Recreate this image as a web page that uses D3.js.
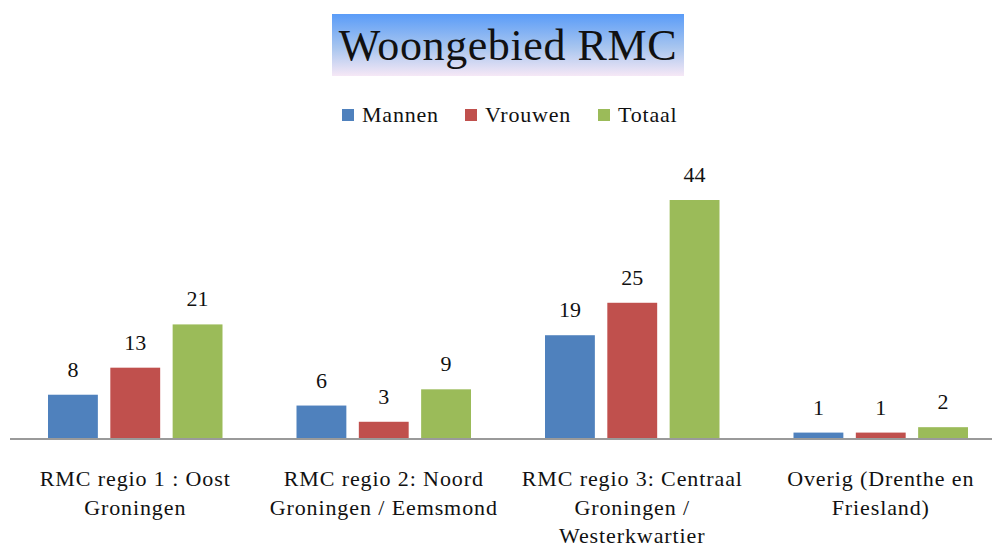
<!DOCTYPE html>
<html>
<head>
<meta charset="utf-8">
<script src="https://cdn.jsdelivr.net/npm/d3@7"></script>
<style>
  body { margin: 0; background: #fff; }
  svg { display: block; font-family: "Liberation Serif", "DejaVu Serif", serif; }
</style>
</head>
<body>
<div id="chart"></div>
<script>
const categories = [
  ["RMC regio 1 : Oost", "Groningen"],
  ["RMC regio 2: Noord", "Groningen / Eemsmond"],
  ["RMC regio 3: Centraal", "Groningen /", "Westerkwartier"],
  ["Overig (Drenthe en", "Friesland)"]
]
const series = ["Mannen", "Vrouwen", "Totaal"]
const mannen = [8, 6, 19, 1]
const vrouwen = [13, 3, 25, 1]
const totaal = [21, 9, 44, 2]
const colors = ["#4f81bd", "#c0504d", "#9bbb59"]

const width = 992, height = 547
const baseY = 438

const rows = categories.map((c, i) => ({
  idx: i,
  label: c,
  values: [mannen[i], vrouwen[i], totaal[i]]
}))

const svg = d3.select("#chart").append("svg")
    .attr("width", width)
    .attr("height", height)

// title with gradient box
const defs = svg.append("defs")
const grad = defs.append("linearGradient")
    .attr("id", "titleGrad")
    .attr("x1", 0).attr("y1", 0).attr("x2", 0).attr("y2", 1)
grad.append("stop").attr("offset", "0%").attr("stop-color", "#5a9cf8")
grad.append("stop").attr("offset", "55%").attr("stop-color", "#a9c6ef")
grad.append("stop").attr("offset", "100%").attr("stop-color", "#f6e8f6")

svg.append("rect")
    .attr("x", 332).attr("y", 14)
    .attr("width", 352).attr("height", 62)
    .attr("fill", "url(#titleGrad)")

svg.append("text")
    .attr("x", 508).attr("y", 60)
    .attr("text-anchor", "middle")
    .attr("font-size", 44)
    .attr("letter-spacing", 0.6)
    .attr("fill", "#111")
    .text("Woongebied RMC")

// legend
const legendX = [342, 465, 598]
const legend = svg.append("g").selectAll("g")
    .data(series)
    .join("g")
    .attr("transform", (d, i) => `translate(${legendX[i]},115)`)
legend.append("rect")
    .attr("x", 0).attr("y", -6)
    .attr("width", 12).attr("height", 12)
    .attr("fill", (d, i) => colors[i])
legend.append("text")
    .attr("x", 20).attr("y", 7)
    .attr("font-size", 22)
    .attr("letter-spacing", 0.8)
    .attr("fill", "#111")
    .text(d => d)

// scales
const x0 = d3.scaleBand()
    .domain(rows.map(d => d.idx))
    .range([11, 1005])
    .paddingInner(0)
    .paddingOuter(0)

const x1 = d3.scaleBand()
    .domain(d3.range(series.length))
    .range([37, x0.bandwidth() - 37])
    .paddingInner(0.2)
    .paddingOuter(0)

const y = d3.scaleLinear()
    .domain([0, 44])
    .range([baseY, 200])

const groups = svg.append("g").selectAll("g")
    .data(rows)
    .join("g")
    .attr("transform", d => `translate(${x0(d.idx)},0)`)

groups.selectAll("rect")
    .data(d => d.values)
    .join("rect")
    .attr("x", (d, i) => x1(i))
    .attr("y", d => y(d))
    .attr("width", x1.bandwidth())
    .attr("height", d => baseY - y(d))
    .attr("fill", (d, i) => colors[i])

groups.selectAll("text.val")
    .data(d => d.values)
    .join("text")
    .attr("class", "val")
    .attr("x", (d, i) => x1(i) + x1.bandwidth() / 2)
    .attr("y", d => y(d) - 18)
    .attr("text-anchor", "middle")
    .attr("font-size", 22)
    .attr("fill", "#111")
    .text(d => d)

// axis line
svg.append("line")
    .attr("x1", 10).attr("x2", width)
    .attr("y1", baseY + 1).attr("y2", baseY + 1)
    .attr("stroke", "#9a9a9a")
    .attr("stroke-width", 2)

// category labels
groups.append("text")
    .attr("text-anchor", "middle")
    .attr("font-size", 22)
    .attr("letter-spacing", 0.9)
    .attr("fill", "#111")
    .selectAll("tspan")
    .data(d => d.label)
    .join("tspan")
    .attr("x", x0.bandwidth() / 2)
    .attr("y", (d, i) => 486 + i * 28.5)
    .text(d => d)
</script>
</body>
</html>
